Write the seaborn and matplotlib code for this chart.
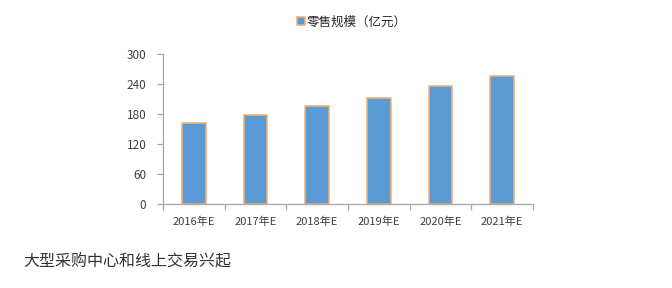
import matplotlib
matplotlib.use("Agg")
import matplotlib.pyplot as plt
import seaborn as sns
import pandas as pd
from matplotlib.ticker import FixedLocator

categories = ["2016年E", "2017年E", "2018年E", "2019年E", "2020年E", "2021年E"]
values = [163, 179, 197, 213, 236, 256]
series_name = "零售规模（亿元）"
caption = "大型采购中心和线上交易兴起"
y_ticks = [0, 60, 120, 180, 240, 300]

sns.set_style("white")
plt.rcParams['font.family'] = ['Noto Sans CJK SC', 'DejaVu Sans']

df = pd.DataFrame({"year": categories, "value": values})

fig = plt.figure(figsize=(6.72, 2.88), dpi=100)
ax = fig.add_axes([163/672, 84/288, 370/672, 150/288])

sns.barplot(data=df, x="year", y="value", ax=ax, color="#5B9BD5",
            width=0.38, edgecolor="#F5AE6A", linewidth=1.1, saturation=1,
            label=series_name)

ax.set_xlim(-0.5, len(categories) - 0.5)
ax.set_ylim(0, 300)
ax.set_yticks(y_ticks)
ax.set_xlabel("")
ax.set_ylabel("")

for s in ["top", "right"]:
    ax.spines[s].set_visible(False)
for s in ["left", "bottom"]:
    ax.spines[s].set_color("#A6A6A6")
    ax.spines[s].set_linewidth(0.9)

ax.tick_params(axis="y", which="major", direction="out", length=4, width=0.9,
               color="#A6A6A6", labelsize=8.5, labelcolor="#404040", pad=8, left=True)
ax.tick_params(axis="x", which="major", length=0, labelsize=8, labelcolor="#404040", pad=9)
ax.xaxis.set_minor_locator(FixedLocator([i - 0.5 for i in range(len(categories) + 1)]))
ax.tick_params(axis="x", which="minor", direction="out", length=4, width=0.9,
               color="#A6A6A6", bottom=True)

leg = ax.legend(loc="center", bbox_to_anchor=(352/672, 1 - 22/288),
                bbox_transform=fig.transFigure, frameon=False,
                handlelength=0.6, handleheight=0.6, handletextpad=0.2,
                prop={'family': ['Noto Sans CJK SC', 'DejaVu Sans'], 'size': 9})

fig.text(23/672, 1 - 262/288, caption, fontsize=11.5, color="#333333",
         va="center", ha="left")

fig.savefig("out.png", dpi=100)
